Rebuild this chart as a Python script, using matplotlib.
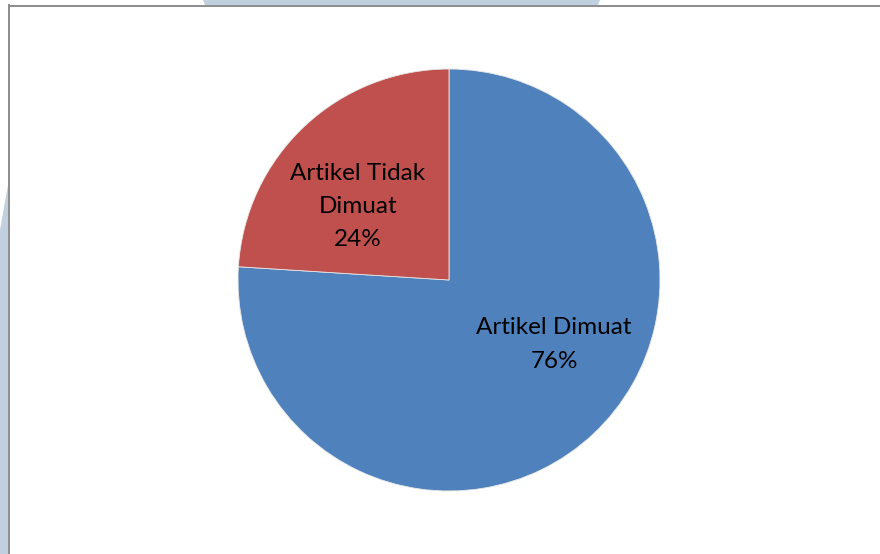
import matplotlib.pyplot as plt
from matplotlib.patches import Polygon
import numpy as np

# data
labels = ['Artikel Dimuat', 'Artikel Tidak\nDimuat']
values = [76, 24]
colors = ['#4F81BD', '#C0504D']
# label placement (fraction of radius, angle in degrees)
label_pos = [(0.585, -31.5), (0.555, 141.0)]

W, H = 880, 554
fig = plt.figure(figsize=(W / 100, H / 100), dpi=100)
fig.patch.set_facecolor('white')

# faint watermark remnants outside the chart frame
wm = '#C0D0DE'
fig.add_artist(Polygon([(203 / W, 1), (600 / W, 1), (598 / W, 1 - 5 / H), (205 / W, 1 - 5 / H)],
                       closed=True, transform=fig.transFigure, color=wm, lw=0))
fig.add_artist(Polygon([(0, 1 - 230 / H), (8 / W, 1 - 185 / H), (8 / W, 0), (0, 0)],
                       closed=True, transform=fig.transFigure, color=wm, lw=0))

# chart frame (only left and top edges are visible)
fig.add_artist(plt.Line2D([8.5 / W, 8.5 / W], [0, 1 - 5 / H], transform=fig.transFigure,
                          color='#8C8C8C', lw=1.4))
fig.add_artist(plt.Line2D([8.5 / W, 1], [1 - 5.5 / H, 1 - 5.5 / H], transform=fig.transFigure,
                          color='#8C8C8C', lw=1.4))

cx, cy, r = 449, 280, 211
ax = fig.add_axes([(cx - r) / W, (H - cy - r) / H, 2 * r / W, 2 * r / H])
wedges, _ = ax.pie(values, colors=colors, startangle=90, counterclock=False,
                   wedgeprops=dict(edgecolor='#E8E8E8', linewidth=0.6))
ax.set_xlim(-1, 1)
ax.set_ylim(-1, 1)
ax.set_aspect('equal')
ax.axis('off')

for lab, v, (d, ang) in zip(labels, values, label_pos):
    a = np.deg2rad(ang)
    ax.text(d * np.cos(a), d * np.sin(a), f'{lab}\n{v}%', ha='center', va='center',
            fontsize=17.5, family='Lato', linespacing=1.72, color='black')

fig.savefig('out.png', dpi=100)
